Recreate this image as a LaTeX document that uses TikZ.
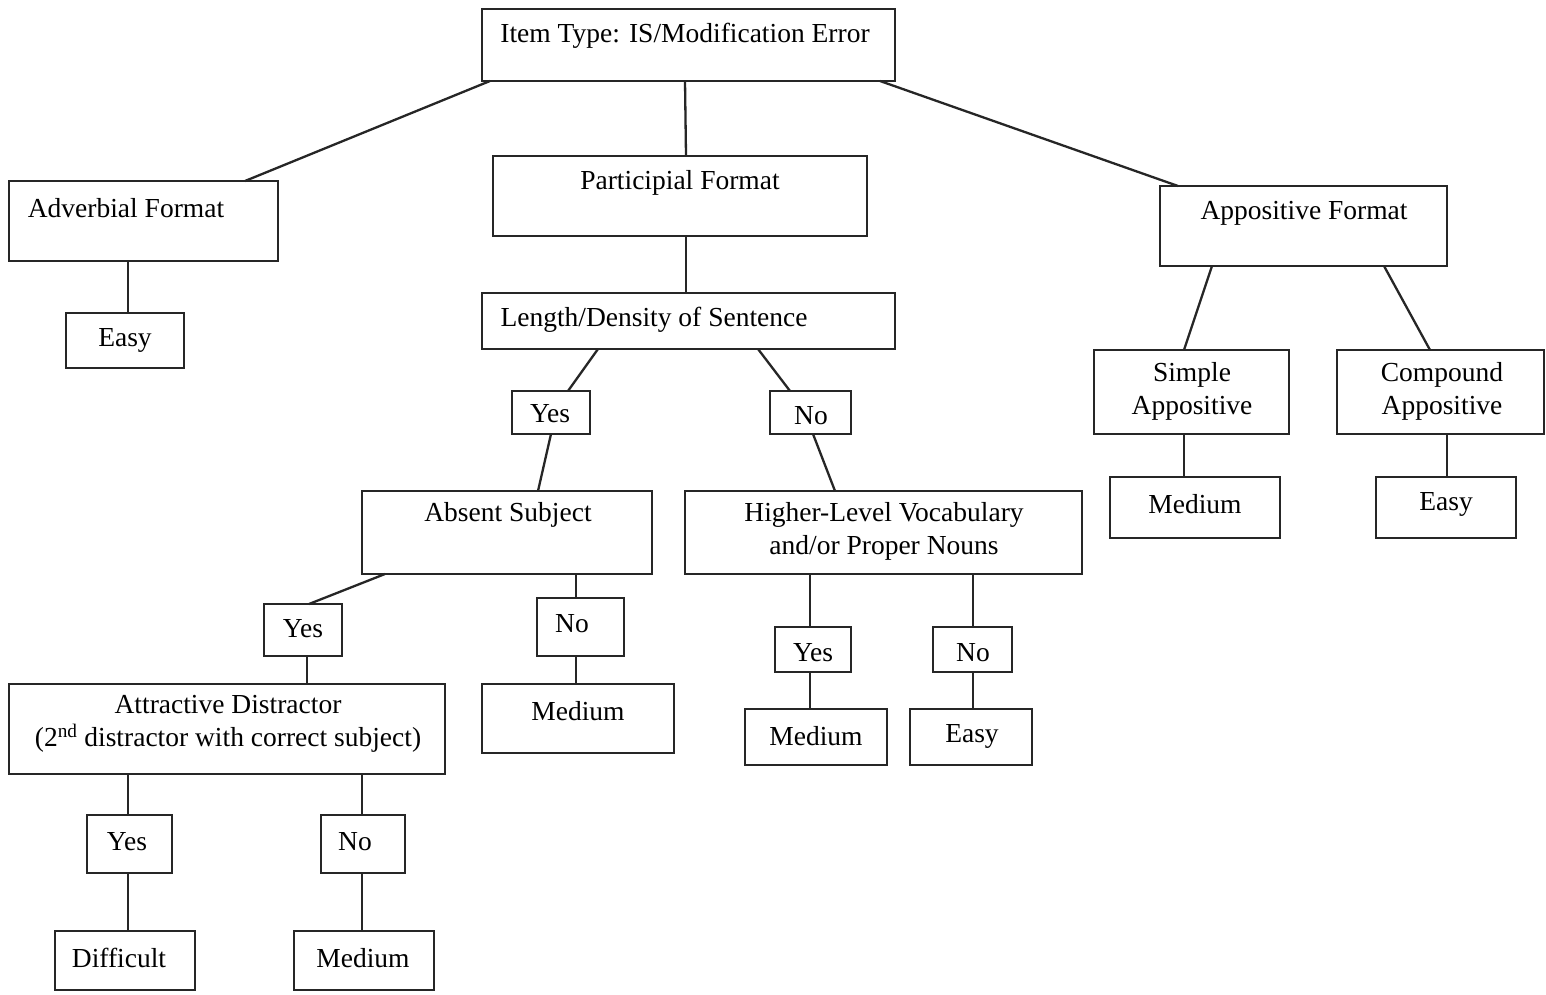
\documentclass[tikz,border=0pt]{standalone}
\usepackage{fontspec}
\setmainfont{Liberation Serif}
\begin{document}
\begin{tikzpicture}[x=1pt,y=-1pt,
  box/.style={draw=black!85, line width=2.8pt, inner sep=0pt, outer sep=0pt},
  lbl/.style={inner sep=0pt, align=center, font=\fontsize{27.5}{33}\selectfont, text=black},
  link/.style={draw=black!85, line width=2.3pt}]
\useasboundingbox[fill=white] (0,0) rectangle (1546,995);
% boxes: \bx{name}{x1}{y1}{x2}{y2}
\newcommand{\bx}[5]{\node[box, minimum width={#4-#2}, minimum height={#5-#3}] (#1) at ({(#2+#4)/2},{(#3+#5)/2}) {};}
\bx{root}{482}{9}{895}{81}
\bx{adv}{9}{181}{278}{261}
\bx{part}{493}{156}{867}{236}
\bx{appo}{1160}{186}{1447}{266}
\bx{easyA}{66}{313}{184}{368}
\bx{len}{482}{293}{895}{349}
\bx{yesL}{512}{391}{590}{434}
\bx{noL}{770}{391}{851}{434}
\bx{simp}{1094}{350}{1289}{434}
\bx{comp}{1337}{350}{1544}{434}
\bx{medS}{1110}{477}{1280}{538}
\bx{easyC}{1376}{477}{1516}{538}
\bx{abs}{362}{491}{652}{574}
\bx{high}{685}{491}{1082}{574}
\bx{yesA}{264}{604}{342}{656}
\bx{noA}{537}{598}{624}{656}
\bx{attr}{9}{684}{445}{774}
\bx{medA}{482}{684}{674}{753}
\bx{yesH}{775}{627}{851}{672}
\bx{noH}{933}{627}{1012}{672}
\bx{medH}{745}{709}{887}{765}
\bx{easyH}{910}{709}{1032}{765}
\bx{yesD}{87}{815}{172}{873}
\bx{noD}{321}{815}{405}{873}
\bx{diff}{55}{931}{195}{990}
\bx{medD}{294}{931}{434}{990}
% texts
\node[lbl] (root-t) at (685,36) {Item Type: IS/Modification Error};
\node[lbl] (adv-t) at (126,208) {Adverbial Format};
\node[lbl] (part-t) at (680,183) {Participial Format};
\node[lbl] (appo-t) at (1304,213) {Appositive Format};
\node[lbl] (easyA-t) at (125,340) {Easy};
\node[lbl] (len-t) at (654,320) {Length/Density of Sentence};
\node[lbl] (yesL-t) at (550,414) {Yes};
\node[lbl] (noL-t) at (811,416) {No};
\node[lbl] (simp-t) at (1192,391) {Simple\\Appositive};
\node[lbl] (comp-t) at (1442,391) {Compound\\Appositive};
\node[lbl] (medS-t) at (1195,504) {Medium};
\node[lbl] (easyC-t) at (1446,504) {Easy};
\node[lbl] (abs-t) at (508,515) {Absent Subject};
\node[lbl] (high-t) at (884,531) {Higher-Level Vocabulary\\and/or Proper Nouns};
\node[lbl] (yesA-t) at (303,629) {Yes};
\node[lbl] (noA-t) at (572,624) {No};
\node[lbl] (attr-t) at (228,724) {Attractive Distractor\\(2\textsuperscript{nd} distractor with correct subject)};
\node[lbl] (medA-t) at (578,711) {Medium};
\node[lbl] (yesH-t) at (813,653) {Yes};
\node[lbl] (noH-t) at (973,653) {No};
\node[lbl] (medH-t) at (816,736) {Medium};
\node[lbl] (easyH-t) at (972,736) {Easy};
\node[lbl] (yesD-t) at (127,842) {Yes};
\node[lbl] (noD-t) at (355,842) {No};
\node[lbl] (diff-t) at (119,958) {Difficult};
\node[lbl] (medD-t) at (363,958) {Medium};
% connectors
\draw[link] (root.south -| 490,0) -- (adv.north -| 245,0);
\draw[link] (root.south -| 685,0) -- (part.north -| 686,0);
\draw[link] (root.south -| 880,0) -- (appo.north -| 1178,0);
\draw[link] (adv.south -| 128,0) -- (easyA.north -| 128,0);
\draw[link] (part.south -| 686,0) -- (len.north -| 686,0);
\draw[link] (len.south -| 598,0) -- (yesL.north -| 568,0);
\draw[link] (len.south -| 758,0) -- (noL.north -| 790,0);
\draw[link] (yesL.south -| 551,0) -- (abs.north -| 538,0);
\draw[link] (noL.south -| 813,0) -- (high.north -| 835,0);
\draw[link] (appo.south -| 1212,0) -- (simp.north -| 1184,0);
\draw[link] (appo.south -| 1384,0) -- (comp.north -| 1430,0);
\draw[link] (simp.south -| 1184,0) -- (medS.north -| 1184,0);
\draw[link] (comp.south -| 1447,0) -- (easyC.north -| 1447,0);
\draw[link] (abs.south -| 385,0) -- (yesA.north -| 309,0);
\draw[link] (abs.south -| 576,0) -- (noA.north -| 576,0);
\draw[link] (high.south -| 810,0) -- (yesH.north -| 810,0);
\draw[link] (high.south -| 973,0) -- (noH.north -| 973,0);
\draw[link] (yesA.south -| 307,0) -- (attr.north -| 307,0);
\draw[link] (noA.south -| 576,0) -- (medA.north -| 576,0);
\draw[link] (yesH.south -| 810,0) -- (medH.north -| 810,0);
\draw[link] (noH.south -| 973,0) -- (easyH.north -| 973,0);
\draw[link] (attr.south -| 128,0) -- (yesD.north -| 128,0);
\draw[link] (attr.south -| 362,0) -- (noD.north -| 362,0);
\draw[link] (yesD.south -| 128,0) -- (diff.north -| 128,0);
\draw[link] (noD.south -| 362,0) -- (medD.north -| 362,0);
\end{tikzpicture}
\end{document}
